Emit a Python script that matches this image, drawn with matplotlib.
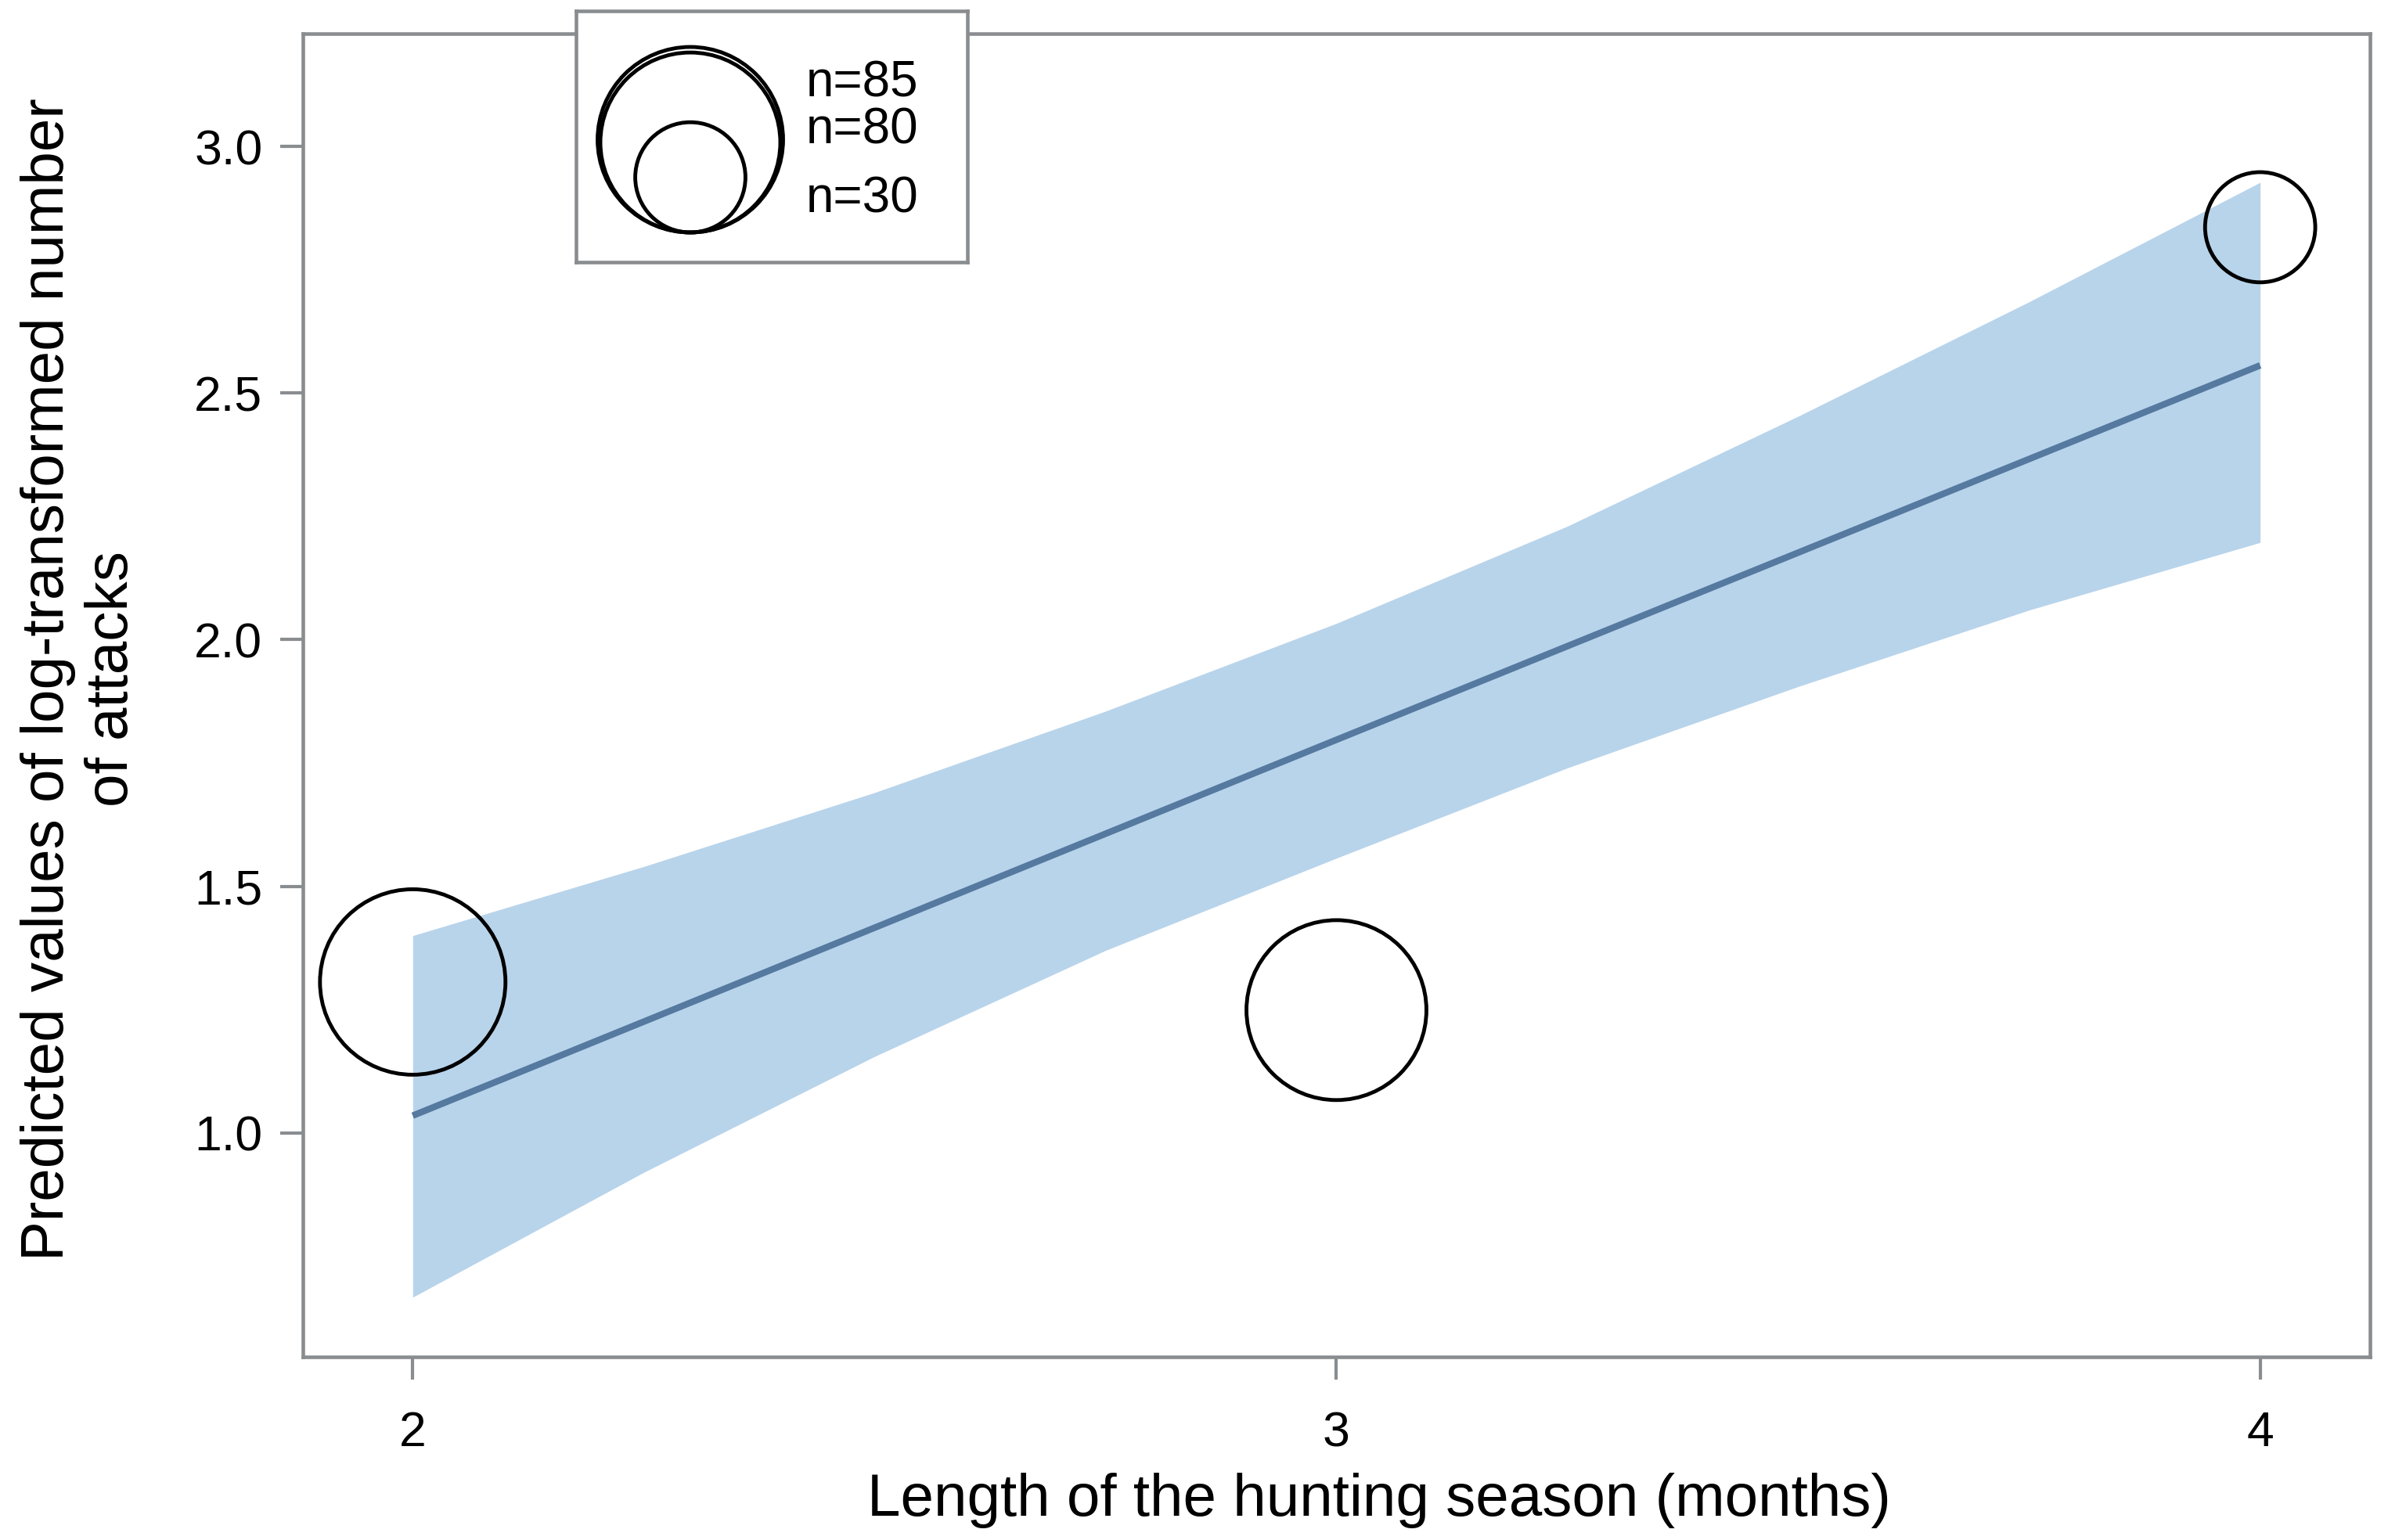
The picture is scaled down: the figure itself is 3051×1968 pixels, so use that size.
import numpy as np
import matplotlib
matplotlib.use("Agg")
import matplotlib.pyplot as plt

plt.rcParams['font.family'] = ['Liberation Sans', 'DejaVu Sans']

# observed points (bubble size = n)
season = [2, 3, 4]
obs = [1.306, 1.249, 2.836]
n_obs = [85, 80, 30]

# fitted line and confidence band
fit_x = [2, 3, 4]
fit_y = [1.035, 1.797, 2.556]
band_x = [2, 2.25, 2.5, 2.75, 3, 3.25, 3.5, 3.75, 4]
band_hi = [1.40, 1.54, 1.69, 1.855, 2.033, 2.23, 2.453, 2.685, 2.927]
band_lo = [0.667, 0.92, 1.155, 1.37, 1.557, 1.74, 1.905, 2.06, 2.197]

legend_n = [85, 80, 30]
legend_labels = ['n=85', 'n=80', 'n=30']

DPI = 100
S_PER_N = 342.5   # marker area (pt^2) per observation
GRAY = '#8a8d90'
BAND = '#b8d4eb'
LINE = '#55799f'

fig = plt.figure(figsize=(30.51, 19.68), dpi=DPI)
ax = fig.add_axes([0.1268, 0.1189, 0.8657, 0.8593])

ax.fill_between(band_x, band_lo, band_hi, color=BAND, linewidth=0, zorder=1)
ax.plot(fit_x, fit_y, color=LINE, linewidth=6, solid_capstyle='butt', zorder=2)
ax.scatter(season, obs, s=np.array(n_obs) * S_PER_N, facecolors='none',
           edgecolors='black', linewidths=3.5, zorder=3)

ax.set_xlim(1.881, 4.119)
ax.set_ylim(0.546, 3.2286)
ax.set_xticks([2, 3, 4])
ax.set_xticklabels(['2', '3', '4'])
ax.set_yticks([1.0, 1.5, 2.0, 2.5, 3.0])
ax.set_yticklabels(['1.0', '1.5', '2.0', '2.5', '3.0'])
ax.tick_params(direction='out', length=21, width=3, color=GRAY,
               labelsize=45, pad=16)
ax.tick_params(axis='x', pad=28)
for sp in ax.spines.values():
    sp.set_color(GRAY)
    sp.set_linewidth(3.3)

fig.text(1762 / 3051, 1 - 1937 / 1968, 'Length of the hunting season (months)',
         ha='center', va='baseline', fontsize=55)
fig.text(103 / 3051, 0.559,
         'Predicted values of log-transformed number\nof attacks',
         rotation=90, ha='center', va='center', multialignment='center',
         fontsize=55, linespacing=1.2)

# bubble size legend
lax = fig.add_axes([736 / 3051, 1 - 335 / 1968, 500 / 3051, 321 / 1968],
                   zorder=5)
lax.set_xlim(0, 500)
lax.set_ylim(0, 321)
lax.set_xticks([])
lax.set_yticks([])
lax.set_facecolor('white')
for sp in lax.spines.values():
    sp.set_color(GRAY)
    sp.set_linewidth(3.3)
r_px = np.sqrt(np.array(legend_n) * S_PER_N) / 2 * DPI / 72
lax.scatter([146] * len(legend_n), 38 + r_px,
            s=np.array(legend_n) * S_PER_N, facecolors='none',
            edgecolors='black', linewidths=3.5, clip_on=False)
for lab, ty in zip(legend_labels, [229, 169, 80]):
    lax.text(294, ty, lab, ha='left', va='center', fontsize=46)

fig.savefig('out.png', dpi=DPI)
